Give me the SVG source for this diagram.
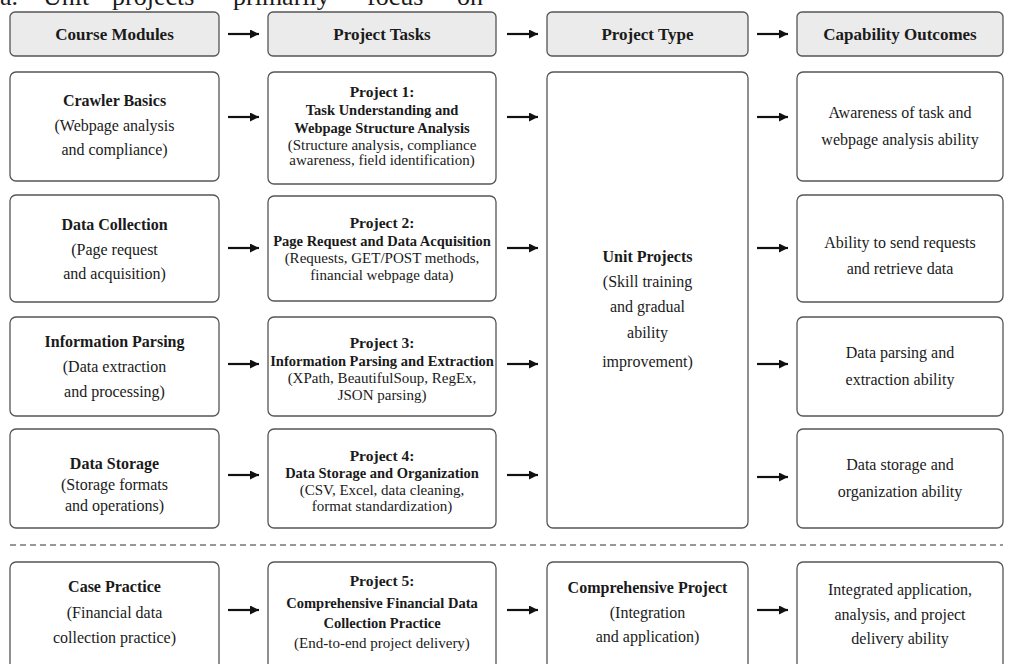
<svg xmlns="http://www.w3.org/2000/svg" width="1012" height="664" viewBox="0 0 1012 664">
<defs>
<marker id="ah" viewBox="0 0 10 10" refX="10" refY="5" markerWidth="10" markerHeight="9" orient="auto" markerUnits="userSpaceOnUse">
<path d="M0,0 L10,5 L0,10 z" fill="#111"/>
</marker>
<style>
.hdr{fill:#ebebeb;stroke:#555;stroke-width:1.3}
.box{fill:#fff;stroke:#555;stroke-width:1.3}
text{font-family:"Liberation Serif","Times New Roman",serif;fill:#1a1a1a;text-anchor:middle}
.ht{font-size:17px;font-weight:bold}
.t{font-size:16px;font-weight:bold}
.r{font-size:16px}
.pt{font-size:15.5px;font-weight:bold}
.st{font-size:14.5px;font-weight:bold}
.d{font-size:15px}
.o{font-size:16px}
.arr line{stroke:#111;stroke-width:2.2;marker-end:url(#ah)}
.top{font-size:26px;text-anchor:start}
</style>
</defs>
<rect width="1012" height="664" fill="#fff"/>
<g id="page-text">
<text class="top" x="0" y="5">a.</text>
<text class="top" x="43" y="5">Unit</text>
<text class="top" x="112" y="5">projects</text>
<text class="top" x="233" y="5">primarily</text>
<text class="top" x="367" y="5">focus</text>
<text class="top" x="457" y="5">on</text>
</g>
<g id="hdr-modules"><rect class="hdr" x="10" y="12" width="209" height="44" rx="5"/><text class="ht" x="114.5" y="40">Course Modules</text></g>
<g id="hdr-tasks"><rect class="hdr" x="268" y="12" width="228" height="44" rx="5"/><text class="ht" x="382" y="40">Project Tasks</text></g>
<g id="hdr-type"><rect class="hdr" x="547" y="12" width="201" height="44" rx="5"/><text class="ht" x="647.5" y="40">Project Type</text></g>
<g id="hdr-outcomes"><rect class="hdr" x="797" y="12" width="206" height="44" rx="5"/><text class="ht" x="900" y="40">Capability Outcomes</text></g>

<g id="m1"><rect class="box" x="10" y="72" width="209" height="109" rx="6"/><text class="t" x="114.5" y="106">Crawler Basics</text><text class="r" x="114.5" y="131">(Webpage analysis</text><text class="r" x="114.5" y="155">and compliance)</text></g>
<g id="m2"><rect class="box" x="10" y="195" width="209" height="107" rx="6"/><text class="t" x="114.5" y="230">Data Collection</text><text class="r" x="114.5" y="255">(Page request</text><text class="r" x="114.5" y="279">and acquisition)</text></g>
<g id="m3"><rect class="box" x="10" y="317" width="209" height="99" rx="6"/><text class="t" x="114.5" y="347">Information Parsing</text><text class="r" x="114.5" y="372">(Data extraction</text><text class="r" x="114.5" y="397">and processing)</text></g>
<g id="m4"><rect class="box" x="10" y="429" width="209" height="99" rx="6"/><text class="t" x="114.5" y="469">Data Storage</text><text class="r" x="114.5" y="490">(Storage formats</text><text class="r" x="114.5" y="511">and operations)</text></g>
<g id="m5"><rect class="box" x="10" y="562" width="209" height="112" rx="6"/><text class="t" x="114.5" y="592">Case Practice</text><text class="r" x="114.5" y="618">(Financial data</text><text class="r" x="114.5" y="643">collection practice)</text></g>

<g id="p1"><rect class="box" x="268" y="72" width="228" height="112" rx="6"/><text class="pt" x="382" y="97">Project 1:</text><text class="st" x="382" y="115">Task Understanding and</text><text class="st" x="382" y="133">Webpage Structure Analysis</text><text class="d" x="382" y="150">(Structure analysis, compliance</text><text class="d" x="382" y="165">awareness, field identification)</text></g>
<g id="p2"><rect class="box" x="268" y="196" width="228" height="105" rx="6"/><text class="pt" x="382" y="228">Project 2:</text><text class="st" x="382" y="246">Page Request and Data Acquisition</text><text class="d" x="382" y="263">(Requests, GET/POST methods,</text><text class="d" x="382" y="280">financial webpage data)</text></g>
<g id="p3"><rect class="box" x="268" y="317" width="228" height="99" rx="6"/><text class="pt" x="382" y="348">Project 3:</text><text class="st" x="382" y="366">Information Parsing and Extraction</text><text class="d" x="382" y="383">(XPath, BeautifulSoup, RegEx,</text><text class="d" x="382" y="400">JSON parsing)</text></g>
<g id="p4"><rect class="box" x="268" y="429" width="228" height="99" rx="6"/><text class="pt" x="382" y="461">Project 4:</text><text class="st" x="382" y="478">Data Storage and Organization</text><text class="d" x="382" y="495">(CSV, Excel, data cleaning,</text><text class="d" x="382" y="511">format standardization)</text></g>
<g id="p5"><rect class="box" x="268" y="562" width="228" height="112" rx="6"/><text class="pt" x="382" y="586">Project 5:</text><text class="st" x="382" y="608">Comprehensive Financial Data</text><text class="st" x="382" y="628">Collection Practice</text><text class="d" x="382" y="648">(End-to-end project delivery)</text></g>

<g id="unit"><rect class="box" x="547" y="72" width="201" height="456" rx="6"/><text class="t" x="647.5" y="262">Unit Projects</text><text class="r" x="647.5" y="287">(Skill training</text><text class="r" x="647.5" y="312">and gradual</text><text class="r" x="647.5" y="338">ability</text><text class="r" x="647.5" y="367">improvement)</text></g>
<g id="comp"><rect class="box" x="547" y="562" width="201" height="112" rx="6"/><text class="t" x="647.5" y="593">Comprehensive Project</text><text class="r" x="647.5" y="618">(Integration</text><text class="r" x="647.5" y="642">and application)</text></g>

<g id="o1"><rect class="box" x="797" y="72" width="206" height="109" rx="6"/><text class="o" x="900" y="118">Awareness of task and</text><text class="o" x="900" y="145">webpage analysis ability</text></g>
<g id="o2"><rect class="box" x="797" y="195" width="206" height="107" rx="6"/><text class="o" x="900" y="248">Ability to send requests</text><text class="o" x="900" y="274">and retrieve data</text></g>
<g id="o3"><rect class="box" x="797" y="317" width="206" height="99" rx="6"/><text class="o" x="900" y="358">Data parsing and</text><text class="o" x="900" y="385">extraction ability</text></g>
<g id="o4"><rect class="box" x="797" y="429" width="206" height="99" rx="6"/><text class="o" x="900" y="470">Data storage and</text><text class="o" x="900" y="497">organization ability</text></g>
<g id="o5"><rect class="box" x="797" y="562" width="206" height="112" rx="6"/><text class="o" x="900" y="595">Integrated application,</text><text class="o" x="900" y="620">analysis, and project</text><text class="o" x="900" y="644">delivery ability</text></g>

<line id="divider" x1="10" y1="545" x2="1003" y2="545" stroke="#777" stroke-width="1.3" stroke-dasharray="6,4"/>

<g id="connectors" class="arr">
<line x1="228" y1="34" x2="259" y2="34"/>
<line x1="507" y1="34" x2="538" y2="34"/>
<line x1="757" y1="34" x2="788" y2="34"/>
<line x1="228" y1="117" x2="259" y2="117"/>
<line x1="507" y1="117" x2="538" y2="117"/>
<line x1="757" y1="117" x2="788" y2="117"/>
<line x1="228" y1="248" x2="259" y2="248"/>
<line x1="507" y1="248" x2="538" y2="248"/>
<line x1="757" y1="248" x2="788" y2="248"/>
<line x1="228" y1="364" x2="259" y2="364"/>
<line x1="507" y1="364" x2="538" y2="364"/>
<line x1="757" y1="364" x2="788" y2="364"/>
<line x1="228" y1="475" x2="259" y2="475"/>
<line x1="507" y1="475" x2="538" y2="475"/>
<line x1="757" y1="477" x2="788" y2="477"/>
<line x1="228" y1="610" x2="259" y2="610"/>
<line x1="507" y1="610" x2="538" y2="610"/>
<line x1="757" y1="610" x2="788" y2="610"/>
</g>
</svg>
